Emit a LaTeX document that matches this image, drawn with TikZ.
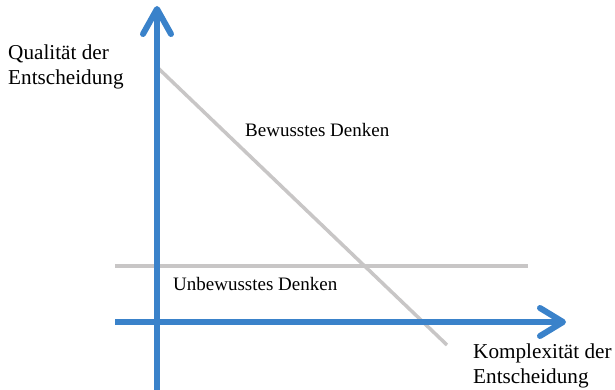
\documentclass[tikz,border=0pt]{standalone}
\usepackage{fontspec}
\setmainfont{Liberation Serif}
\begin{document}
\begin{tikzpicture}[x=1pt,y=-1pt,
  axis/.style={draw={rgb,255:red,58;green,130;blue,202}, line width=6pt, line cap=round, line join=round},
  grayline/.style={draw={rgb,255:red,200;green,198;blue,198}, line width=3.5pt},
  lbl/.style={font=\fontsize{19}{25}\selectfont, inner sep=0pt},
  axlbl/.style={font=\fontsize{21.2}{25}\selectfont, inner sep=0pt}]
\useasboundingbox (0,0) rectangle (615,390);
% coordinates
\coordinate (ybot) at (157,390);
\coordinate (ytip) at (157,9);
\coordinate (yl) at (143,34);
\coordinate (yr) at (171,34);
\coordinate (xleft) at (115,322);
\coordinate (xtip) at (563,322);
\coordinate (xu) at (540,308);
\coordinate (xd) at (540,336);
\coordinate (d1) at (158,68);
\coordinate (d2) at (447,345);
\coordinate (h1) at (115,266);
\coordinate (h2) at (528,266);
% gray lines
\draw[grayline] (h1) -- (h2);
\draw[grayline] (d1) -- (d2);
% axes
\draw[axis, line cap=butt] (ybot) -- (ytip);
\draw[axis] (yl) -- (ytip) -- (yr);
\draw[axis, line cap=butt] (xleft) -- (xtip);
\draw[axis] (xu) -- (xtip) -- (xd);
% labels
\node[axlbl, anchor=base west, align=left] (q) at (8,85) {Qualität der\\Entscheidung};
\node[lbl, anchor=base west] (b) at (245,137) {Bewusstes Denken};
\node[lbl, anchor=base west] (u) at (173,290) {Unbewusstes Denken};
\node[axlbl, anchor=base west, align=left] (k) at (473,383) {Komplexität der\\Entscheidung};
\end{tikzpicture}
\end{document}
